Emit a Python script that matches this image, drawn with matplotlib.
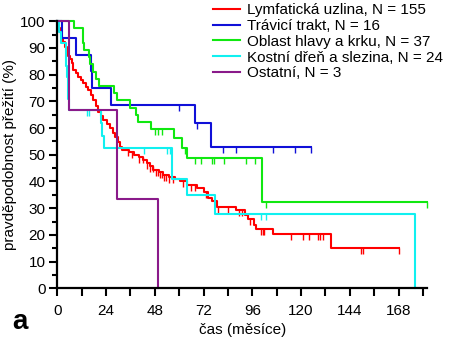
import matplotlib
matplotlib.use('Agg')
import matplotlib.pyplot as plt
import numpy as np

plt.rcParams['font.family'] = ['Liberation Sans', 'DejaVu Sans']

# Kaplan-Meier krivky: cas (mesice) -> preziti (%) po kazdem poklesu
red_t = [0.5, 1, 1.5, 2, 2.5, 3, 4, 4.6, 5.5, 6.3, 7, 7.9, 9, 10.3, 11.5, 12.8, 14, 15.3,
         16.5, 17.7, 19, 20.2, 21.5, 22.7, 24.5, 26, 27.2, 28.4, 29.7, 30.9, 31.7, 35.5,
         38, 40, 42.4, 44, 45.5, 47.3, 50, 52.2, 55, 58, 60.4, 63.7, 68.7, 72, 74.4, 76,
         78.5, 88, 92.5, 94, 96.6, 97.7, 106, 134.8]
red_s = [98.7, 97.4, 96.1, 94.8, 93.5, 92.3, 90.3, 88.5, 87.1, 86.0, 84.5, 81.7, 80.5, 79.2,
         78.0, 76.7, 75.5, 74.2, 72.3, 70.4, 68.3, 66.1, 64.5, 63.0, 61.4, 59.9, 58.3, 56.7,
         54.9, 53.0, 51.7, 51.0, 50.0, 49.0, 48.0, 46.8, 45.6, 44.3, 43.4, 42.4, 41.6, 40.8,
         40.0, 38.6, 37.4, 36.0, 33.7, 32.5, 30.5, 29.3, 27.4, 25.8, 23.7, 22.2, 20.3, 15.0]
red_end = 168.3
red_cens = [35, 37, 40, 42, 44, 45.5, 47, 48.5, 49.5, 50.5, 51.5, 52.5, 53.5, 55, 57, 62, 66,
            68, 73, 79, 84, 89.5, 91, 95, 100.2, 101, 101.8, 115, 121, 124, 128.5, 129.5, 131,
            149.5, 150.7, 168.3]

blue_t = [2.5, 9, 16.5, 17, 26.5, 67.8, 75.7]
blue_s = [93.75, 87.5, 81.25, 75.0, 68.75, 61.9, 53.0]
blue_end = 125
blue_cens = [60, 69, 81.6, 88, 106, 117, 125]

green_t = [8, 12.5, 12.8, 13, 15.5, 16, 17.5, 19, 20.3, 28, 29.5, 36, 38.5, 39.5, 46,
           57.5, 61.5, 64, 100.7]
green_s = [97.3, 94.6, 91.9, 89.2, 86.5, 83.8, 81.1, 78.4, 75.7, 73.0, 70.3, 67.6, 64.9,
           62.2, 59.5, 56.1, 52.4, 48.6, 32.4]
green_end = 182
green_cens = [48, 49.6, 51.4, 63, 67.8, 70.6, 76, 77, 82, 93, 97.4, 102.8, 182]

cyan_t = [1, 2, 4.3, 4.5, 4.8, 5.2, 5.4, 5.6, 21.5, 22.2, 22.8, 56.3, 56.6, 63.7, 77.7, 176.2]
cyan_s = [95.8, 91.7, 87.5, 83.3, 79.2, 75.0, 70.8, 66.7, 61.9, 57.1, 52.4, 46.6, 40.8,
          35.0, 28.0, 0]
cyan_end = 176.2
cyan_cens = [14.8, 15.8, 42.9, 53.9, 55.5, 100.2, 102.8]

purple_t = [5.8, 29.6, 49.7]
purple_s = [66.7, 33.3, 0]
purple_end = 49.7
purple_cens = []

labels = ['Lymfatická uzlina, N = 155', 'Trávicí trakt, N = 16', 'Oblast hlavy a krku, N = 37',
          'Kostní dřeň a slezina, N = 24', 'Ostatní, N = 3']
colors = ['#ff0000', '#1010d8', '#10e810', '#10f0f0', '#8a1a8a']

groups = [(red_t, red_s, red_end, red_cens),
          (blue_t, blue_s, blue_end, blue_cens),
          (green_t, green_s, green_end, green_cens),
          (cyan_t, cyan_s, cyan_end, cyan_cens),
          (purple_t, purple_s, purple_end, purple_cens)]

fig = plt.figure(figsize=(4.51, 3.41), dpi=100)
ax = fig.add_axes([0.127, 0.1545, 0.82, 0.7835])

for (t, s, end, cens), lab, col in zip(groups, labels, colors):
    x = np.array([0] + t + [end])
    y = np.array([100] + s + [s[-1]])
    ax.step(x, y, where='post', color=col, lw=1.5, label=lab, clip_on=False)
    if cens:
        c = np.array(cens)
        idx = np.searchsorted(x, c, side='right') - 1
        ax.plot(c, y[idx], ls='none', marker=3, ms=4.5, mew=1.0, color=col, clip_on=False)

ax.set_xlim(0, 182)
ax.set_ylim(0, 100)
ax.set_xticks(np.arange(0, 169, 24))
ax.set_xticks(np.arange(12, 181, 24), minor=True)
ax.set_yticks(np.arange(0, 101, 10))
ax.set_yticks(np.arange(5, 100, 10), minor=True)
ax.tick_params(axis='both', which='major', direction='out', length=5.5, width=1.5,
               labelsize=11, pad=3)
ax.tick_params(axis='x', which='major', pad=5.5)
ax.tick_params(axis='x', which='minor', direction='out', length=5.5, width=1.5)
ax.tick_params(axis='y', which='minor', direction='out', length=3.5, width=1.5)

for side in ['top', 'right']:
    ax.spines[side].set_visible(False)
for side in ['left', 'bottom']:
    ax.spines[side].set_linewidth(1.6)

ax.set_xlabel('čas (měsíce)', fontsize=11, labelpad=4)
ax.set_ylabel('pravděpodobnost přežití (%)', fontsize=11, labelpad=2)

ax.legend(loc='upper left', bbox_to_anchor=(0.465, 1.0), bbox_transform=fig.transFigure,
          frameon=False, fontsize=11, handlelength=1.8, handletextpad=0.45,
          labelspacing=0.12, borderpad=0.2, borderaxespad=0)

fig.text(0.028, 0.035, 'a', fontsize=20, fontweight='bold')

fig.savefig('out.png', dpi=100)
